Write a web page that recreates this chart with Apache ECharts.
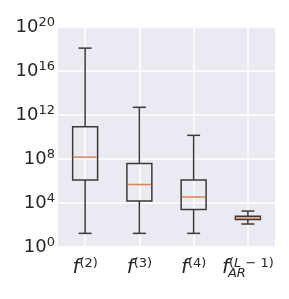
<!DOCTYPE html>
<html>
<head>
<meta charset="utf-8">
<script src="https://cdn.jsdelivr.net/npm/echarts@6/dist/echarts.min.js"></script>
<style>
html,body{margin:0;padding:0;background:#fff;}
#chart{width:289px;height:299px;}
</style>
</head>
<body>
<div id="chart"></div>
<script>
// categories (x tick labels, rich-text keys)
const categories = ['f2', 'f3', 'f4', 'fAR'];
// values are log10 of the quantity (axis drawn as powers of ten)
const whiskerLow  = [1.24, 1.24, 1.24, 2.09];
const q1          = [6.1, 4.18, 3.4, 2.49];
const median      = [8.17, 5.68, 4.55, 2.63];
const q3          = [10.93, 7.59, 6.1, 2.79];
const whiskerHigh = [18.08, 12.7, 10.15, 3.27];
// y tick exponents
const yTickExponents = [0, 4, 8, 12, 16, 20];

const xLabelText = {
  f2: '{f|f}{sup|(2)}',
  f3: '{f|f}{sup|(3)}',
  f4: '{f|f}{sup|(4)}',
  fAR: '{f|f}{sup|(}{supi|L}{sup| \u2212 1)}\n{sub|AR}'
};

const data = categories.map((c, i) => [i, whiskerLow[i], q1[i], median[i], q3[i], whiskerHigh[i]]);

const chart = echarts.init(document.getElementById('chart'), null, {renderer: 'canvas'});
const textColor = '#262626';
const lineColor = '#3a3a3a';
const medColor = '#DD8452';

chart.setOption({
  animation: false,
  grid: {
    left: 58, right: 14, top: 27, bottom: 52,
    show: true, backgroundColor: '#EAEAF2', borderWidth: 0
  },
  xAxis: {
    type: 'category',
    data: categories,
    boundaryGap: true,
    axisLine: {show: false},
    axisTick: {show: false},
    splitLine: {show: true, alignWithLabel: true, lineStyle: {color: '#ffffff', width: 1.5}},
    axisLabel: {
      margin: 10,
      interval: 0,
      formatter: v => xLabelText[v],
      rich: {
        f: {fontFamily: 'DejaVu Sans', fontStyle: 'italic', fontSize: 20, color: textColor, verticalAlign: 'bottom', lineHeight: 21},
        sup: {fontFamily: 'DejaVu Sans', fontSize: 13, color: textColor, verticalAlign: 'top', lineHeight: 21},
        supi: {fontFamily: 'DejaVu Sans', fontStyle: 'italic', fontSize: 13, color: textColor, verticalAlign: 'top', lineHeight: 21},
        sub: {fontFamily: 'DejaVu Sans', fontStyle: 'italic', fontSize: 13, color: textColor, align: 'left', padding: [0, 0, 9, 6], lineHeight: 1}
      }
    }
  },
  yAxis: {
    type: 'value',
    min: 0, max: 20, interval: 4,
    axisLine: {show: false},
    axisTick: {show: false},
    splitLine: {show: true, lineStyle: {color: '#ffffff', width: 1.5}},
    axisLabel: {
      margin: 3,
      formatter: v => yTickExponents.includes(v) ? '{b|10}{s|' + v + '}' : '',
      rich: {
        b: {fontFamily: 'DejaVu Sans', fontSize: 18, color: textColor, lineHeight: 22, verticalAlign: 'middle'},
        s: {fontFamily: 'DejaVu Sans', fontSize: 13, color: textColor, lineHeight: 22, verticalAlign: 'top', padding: [0, 0, 10, 0]}
      }
    }
  },
  series: [{
    type: 'custom',
    data: data,
    encode: {x: 0, y: [1, 2, 3, 4, 5]},
    renderItem: function (params, api) {
      const idx = api.value(0);
      const pLo = api.coord([idx, api.value(1)]);
      const pQ1 = api.coord([idx, api.value(2)]);
      const pMed = api.coord([idx, api.value(3)]);
      const pQ3 = api.coord([idx, api.value(4)]);
      const pHi = api.coord([idx, api.value(5)]);
      const band = api.size([1, 0])[0];
      const bw = band * 0.46, cw = band * 0.24;
      const cx = pLo[0];
      const ls = {stroke: lineColor, lineWidth: 1.5, fill: null};
      return {
        type: 'group',
        children: [
          {type: 'line', shape: {x1: cx, y1: pLo[1], x2: cx, y2: pQ1[1]}, style: ls},
          {type: 'line', shape: {x1: cx, y1: pQ3[1], x2: cx, y2: pHi[1]}, style: ls},
          {type: 'line', shape: {x1: cx - cw / 2, y1: pLo[1], x2: cx + cw / 2, y2: pLo[1]}, style: ls},
          {type: 'line', shape: {x1: cx - cw / 2, y1: pHi[1], x2: cx + cw / 2, y2: pHi[1]}, style: ls},
          {type: 'rect', shape: {x: cx - bw / 2, y: pQ3[1], width: bw, height: pQ1[1] - pQ3[1]}, style: ls},
          {type: 'line', shape: {x1: cx - bw / 2 + 0.75, y1: pMed[1], x2: cx + bw / 2 - 0.75, y2: pMed[1]}, style: {stroke: medColor, lineWidth: 1.5}}
        ]
      };
    }
  }]
});
</script>
</body>
</html>
